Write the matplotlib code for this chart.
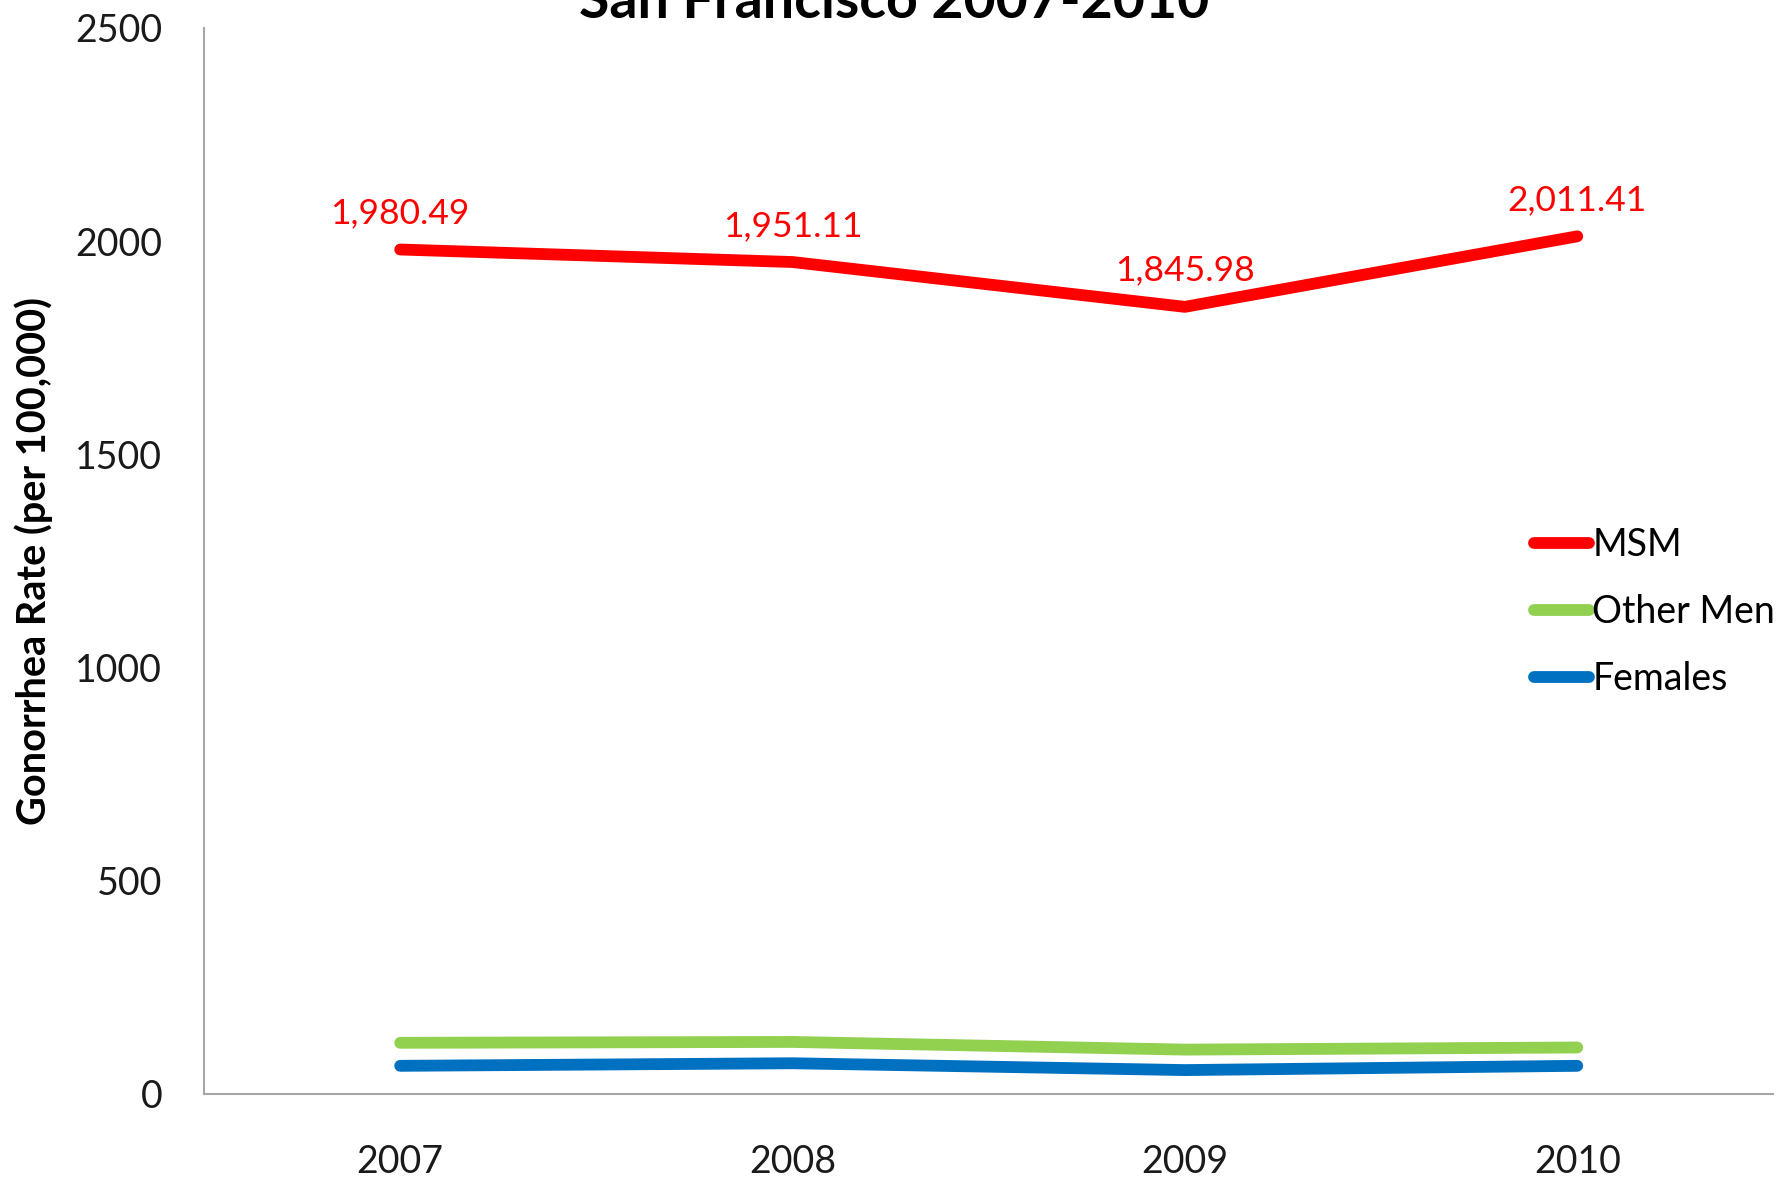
import matplotlib
matplotlib.use("Agg")
import matplotlib.pyplot as plt

# Gonorrhea rates per 100,000, San Francisco
jahre = ["2007", "2008", "2009", "2010"]
msm = [1980.49, 1951.11, 1845.98, 2011.41]
andere_maenner = [120, 122, 104, 109]
frauen = [66, 72, 56, 66]

plt.rcParams["font.family"] = ["Lato", "DejaVu Sans"]

fig = plt.figure(figsize=(17.77, 11.81), dpi=100)
ax = fig.add_axes([0.1148, 0.0737, 0.8832, 0.9026])

x = range(len(jahre))
ax.plot(x, msm, color="#FF0000", linewidth=8.5, solid_capstyle="round", label="MSM")
ax.plot(x, andere_maenner, color="#92D050", linewidth=8.5, solid_capstyle="round", label="Other Men")
ax.plot(x, frauen, color="#0070C0", linewidth=8.5, solid_capstyle="round", label="Females")

# Werte über der MSM-Linie
for xi, wert in zip(x, msm):
    ax.annotate(f"{wert:,.2f}", (xi, wert), xytext=(0, 26), textcoords="offset points",
                ha="center", va="center", color="#FF0000", fontsize=25.5)

ax.set_xlim(-0.5, 3.5)
ax.set_ylim(0, 2500)
ax.set_xticks(list(x))
ax.set_xticklabels(jahre)
ax.set_yticks([0, 500, 1000, 1500, 2000, 2500])
ax.tick_params(axis="both", length=0, labelsize=27, colors="#1a1a1a")
ax.tick_params(axis="x", pad=36)
ax.tick_params(axis="y", pad=30)

for s in ["top", "right"]:
    ax.spines[s].set_visible(False)
for s in ["left", "bottom"]:
    ax.spines[s].set_color("#A6A6A6")
    ax.spines[s].set_linewidth(1.5)

ax.set_ylabel("Gonorrhea Rate (per 100,000)", fontsize=28.5, fontweight="bold")
ax.yaxis.set_label_coords(-0.096, 0.5)

fig.text(0.503, 0.985, "San Francisco 2007-2010", ha="center", va="baseline",
         fontsize=40, fontweight="bold")

leg = ax.legend(loc="center left", bbox_to_anchor=(0.838, 0.452), frameon=False,
                fontsize=27, handlelength=1.45, handletextpad=0.1, labelspacing=0.82,
                borderaxespad=0)

fig.savefig("out.png", dpi=100)
